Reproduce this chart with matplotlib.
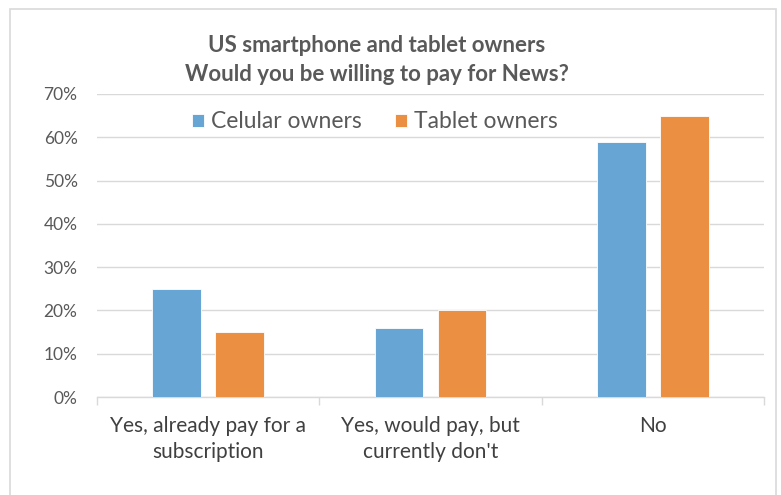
import matplotlib.pyplot as plt
from matplotlib.patches import Rectangle
import numpy as np

categories = ['Yes, already pay for a\nsubscription', "Yes, would pay, but\ncurrently don't", 'No']
cellular = [25, 16, 59]
tablet = [15, 20, 65]
series_names = ['Celular owners', 'Tablet owners']
yticks = [0, 10, 20, 30, 40, 50, 60, 70]

blue = '#67a5d5'
orange = '#eb8f42'
grid_c = '#d9d9d9'

plt.rcParams['font.family'] = ['Lato', 'DejaVu Sans']

fig = plt.figure(figsize=(7.81, 4.95), dpi=100)
ax = fig.add_axes([97 / 781, 1 - 397 / 495, (764 - 97) / 781, (397 - 94) / 495])

# chart frame (bottom edge falls outside the picture)
fig.patches.append(Rectangle((10 / 781, -0.05), (776 - 10) / 781, 1.05 - 9 / 495,
                             transform=fig.transFigure, fill=False,
                             edgecolor=grid_c, linewidth=1.2))

x = np.arange(len(categories))
w = 0.22
off = 0.1416
ax.bar(x - off, cellular, w, color=blue, edgecolor='white', linewidth=0.6,
       label=series_names[0], zorder=3)
ax.bar(x + off, tablet, w, color=orange, edgecolor='white', linewidth=0.6,
       label=series_names[1], zorder=3)

ax.set_xlim(-0.5, len(categories) - 0.5)
ax.set_ylim(0, 70)
ax.set_yticks(yticks)
ax.set_yticklabels([f'{v}%' for v in yticks])
ax.yaxis.grid(True, color=grid_c, linewidth=1.0, zorder=0)
ax.tick_params(axis='y', length=0, pad=14, labelsize=12.5, labelcolor='#595959')

ax.set_xticks(x)
ax.set_xticklabels(categories, fontsize=15, color='#404040', linespacing=1.35)
ax.tick_params(axis='x', length=0, pad=14)
ax.set_xticks(np.arange(len(categories) + 1) - 0.5, minor=True)
ax.tick_params(axis='x', which='minor', length=6, color=grid_c, width=1)

for s in ['top', 'right', 'left']:
    ax.spines[s].set_visible(False)
ax.spines['bottom'].set_color(grid_c)
ax.spines['bottom'].set_linewidth(1.0)

fig.text(377 / 781, 1 - 60 / 495,
         'US smartphone and tablet owners\nWould you be willing to pay for News?',
         ha='center', va='center', fontsize=16, fontweight='bold',
         color='#595959', linespacing=1.42)

ax.legend(loc='center', bbox_to_anchor=(375 / 781, 1 - 122 / 495),
          bbox_transform=fig.transFigure, ncol=2, frameon=False,
          fontsize=16.5, handlelength=0.52, handleheight=0.52,
          handletextpad=0.3, columnspacing=1.45, labelcolor='#595959',
          borderpad=0)

plt.savefig('out.png', dpi=100)
